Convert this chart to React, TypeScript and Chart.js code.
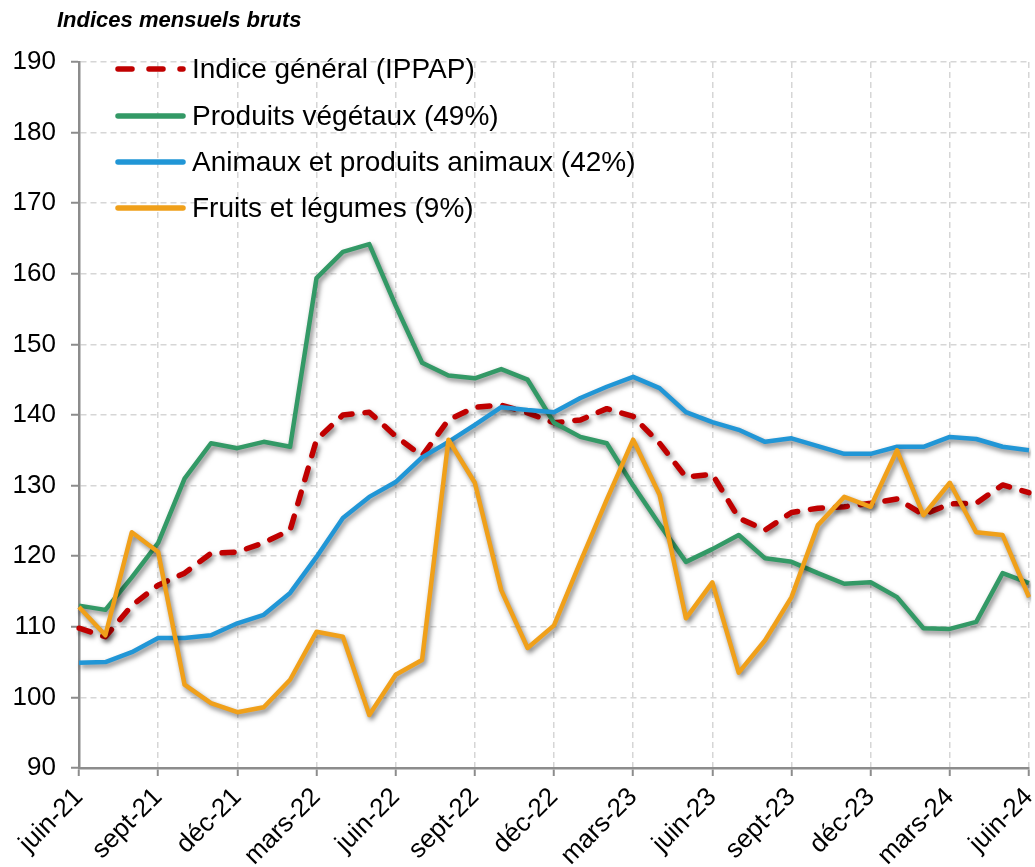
import React, { useEffect, useRef } from "react";
import { Chart, registerables } from "chart.js";

Chart.register(...registerables);

const months = [
  "juin-21", "juil-21", "août-21", "sept-21", "oct-21", "nov-21", "déc-21",
  "janv-22", "févr-22", "mars-22", "avr-22", "mai-22", "juin-22", "juil-22",
  "août-22", "sept-22", "oct-22", "nov-22", "déc-22", "janv-23", "févr-23",
  "mars-23", "avr-23", "mai-23", "juin-23", "juil-23", "août-23", "sept-23",
  "oct-23", "nov-23", "déc-23", "janv-24", "févr-24", "mars-24", "avr-24",
  "mai-24", "juin-24",
];

const ippap = [
  109.8, 108.6, 113.0, 115.9, 117.6, 120.4, 120.6, 121.9, 123.7, 136.5, 140.0,
  140.4, 137.0, 134.2, 139.3, 141.1, 141.4, 140.3, 138.9, 139.3, 140.9, 139.8,
  136.0, 131.2, 131.6, 125.4, 123.7, 126.2, 126.8, 127.0, 127.5, 128.1, 125.9,
  127.4, 127.5, 130.1, 129.0,
];

const vegetaux = [
  113.0, 112.4, 117.0, 121.9, 131.0, 136.0, 135.3, 136.2, 135.5, 159.4, 163.1,
  164.2, 155.5, 147.4, 145.6, 145.2, 146.5, 145.0, 138.9, 136.9, 136.0, 130.0,
  124.5, 119.2, 121.0, 123.0, 119.7, 119.2, 117.6, 116.1, 116.3, 114.2, 109.8,
  109.7, 110.7, 117.6, 116.2,
];

const animaux = [
  104.9, 105.0, 106.4, 108.4, 108.4, 108.8, 110.5, 111.7, 114.8, 119.9, 125.4,
  128.4, 130.5, 134.0, 136.2, 138.6, 141.1, 140.7, 140.4, 142.4, 144.0, 145.4,
  143.8, 140.4, 139.0, 137.9, 136.2, 136.7, 135.6, 134.5, 134.5, 135.5, 135.5,
  136.9, 136.6, 135.5, 135.0,
];

const fruits = [
  112.8, 108.8, 123.4, 120.6, 101.8, 99.2, 97.9, 98.6, 102.5, 109.3, 108.6,
  97.5, 103.2, 105.3, 136.5, 130.4, 115.2, 107.0, 110.2, 119.2, 128.0, 136.5,
  128.7, 111.2, 116.3, 103.5, 108.1, 114.2, 124.4, 128.4, 127.0, 135.0, 125.8,
  130.4, 123.4, 123.0, 114.2,
];

const seriesNames = [
  "Indice général (IPPAP)",
  "Produits végétaux (49%)",
  "Animaux et produits animaux (42%)",
  "Fruits et légumes (9%)",
];
const seriesColors = ["#C00000", "#339966", "#2196D6", "#F0A01A"];
const titleText = "Indices mensuels bruts";

const FONT = "'Liberation Sans', Arial, sans-serif";

export default function App() {
  const ref = useRef<HTMLCanvasElement | null>(null);

  useEffect(() => {
    document.body.style.margin = "0";
    const canvas = ref.current;
    if (!canvas) return;

    const shadowPlugin = {
      id: "lineShadow",
      beforeDatasetDraw(chart: any) {
        const ctx = chart.ctx;
        ctx.save();
        ctx.shadowColor = "rgba(0,0,0,0.5)";
        ctx.shadowBlur = 5;
        ctx.shadowOffsetX = 2;
        ctx.shadowOffsetY = 3;
      },
      afterDatasetDraw(chart: any) {
        chart.ctx.restore();
      },
    };

    const overlayPlugin = {
      id: "overlay",
      afterDraw(chart: any) {
        const ctx = chart.ctx;
        ctx.save();
        // title
        ctx.fillStyle = "#000";
        ctx.font = `italic bold 22px ${FONT}`;
        ctx.textBaseline = "middle";
        ctx.textAlign = "left";
        ctx.fillText(titleText, 57, 21);
        // legend
        const rows = [69, 116, 162, 208];
        ctx.font = `28px ${FONT}`;
        for (let i = 0; i < seriesNames.length; i++) {
          const y = rows[i];
          ctx.strokeStyle = seriesColors[i];
          ctx.lineWidth = 5.5;
          ctx.lineCap = "round";
          if (i === 0) {
            ctx.setLineDash([14, 17]);
          } else {
            ctx.setLineDash([]);
          }
          ctx.beginPath();
          ctx.moveTo(118, y);
          ctx.lineTo(183, y);
          ctx.stroke();
          ctx.setLineDash([]);
          ctx.fillStyle = "#000";
          ctx.fillText(seriesNames[i], 192, y + 1);
        }
        ctx.restore();
      },
    };

    const mk = (i: number, data: number[], order: number) => ({
      label: seriesNames[i],
      data,
      borderColor: seriesColors[i],
      backgroundColor: seriesColors[i],
      borderWidth: i === 0 ? 5.5 : 4.5,
      borderDash: i === 0 ? [12, 13] : [],
      borderCapStyle: i === 0 ? "round" : "butt",
      borderJoinStyle: "round",
      pointRadius: 0,
      tension: 0,
      fill: false,
      order,
    });

    const chart = new Chart(canvas, {
      type: "line",
      data: {
        labels: months,
        datasets: [
          mk(0, ippap, 4),
          mk(1, vegetaux, 3),
          mk(2, animaux, 2),
          mk(3, fruits, 1),
        ],
      },
      options: {
        responsive: false,
        animation: false,
        devicePixelRatio: 1,
        layout: { padding: { left: 0, right: 6, top: 62, bottom: 0 } },
        plugins: {
          legend: { display: false },
          tooltip: { enabled: false },
          title: { display: false },
        },
        scales: {
          x: {
            type: "category",
            offset: false,
            afterFit(scale: any) {
              scale.height = 99;
              scale.paddingRight = 0;
              scale.paddingLeft = 0;
            },
            grid: {
              color: (c: any) => (c.index % 3 === 0 ? "#d6d6d6" : "transparent"),
              tickColor: (c: any) => (c.index % 3 === 0 ? "#8c8c8c" : "transparent"),
              lineWidth: 1.5,
              tickLength: 8,
              tickWidth: 2,
            },
            border: { display: true, color: "#8c8c8c", width: 2.5, dash: [6, 4] },
            ticks: {
              autoSkip: false,
              maxRotation: 45,
              minRotation: 45,
              padding: 6,
              color: "#000",
              font: { family: FONT, size: 26 },
              callback: (_v: any, i: number) => (i % 3 === 0 ? months[i] : ""),
            },
          },
          y: {
            min: 90,
            max: 190,
            afterFit(scale: any) {
              scale.width = 79;
              scale.paddingTop = 0;
              scale.paddingBottom = 0;
            },
            grid: {
              color: "#d6d6d6",
              lineWidth: 1.5,
              tickColor: "#8c8c8c",
              tickLength: 8,
              tickWidth: 2,
            },
            border: { display: true, color: "#8c8c8c", width: 2.5, dash: [6, 4] },
            ticks: {
              stepSize: 10,
              padding: 15,
              color: "#000",
              font: { family: FONT, size: 26 },
            },
          },
        },
      } as any,
      plugins: [shadowPlugin, overlayPlugin],
    } as any);

    return () => chart.destroy();
  }, []);

  return (
    <div style={{ width: 1035, height: 867, background: "#fff" }}>
      <canvas ref={ref} width={1035} height={867} style={{ display: "block" }} />
    </div>
  );
}
